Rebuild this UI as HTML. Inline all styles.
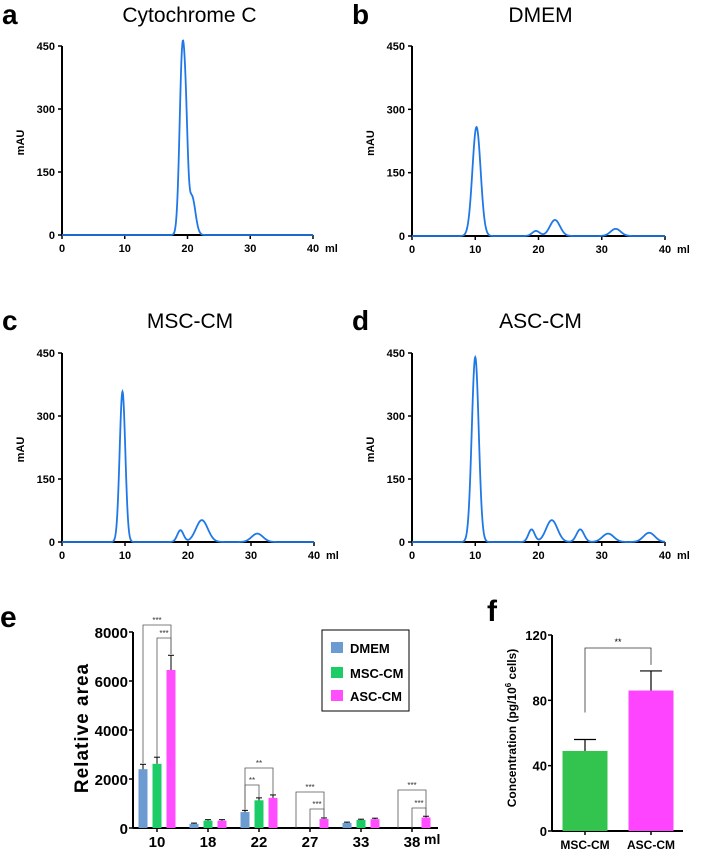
<!DOCTYPE html>
<html><head><meta charset="utf-8"><style>
html,body{margin:0;padding:0;background:#fff;}
svg text{font-family:"Liberation Sans",Arial,sans-serif;}
</style></head><body>
<svg id="fig" width="709" height="854" xmlns="http://www.w3.org/2000/svg"></svg>
<script>
// Chromatogram peaks: [center ml, height mAU, width ml]
const peaksA = [[19.2,440,0.45],[20.7,92,0.55],[19.8,120,0.3]];
const peaksB = [[10.2,258,0.65],[19.6,12,0.6],[22.6,38,0.8],[32.2,17,0.8]];
const peaksC = [[9.6,358,0.45],[18.8,28,0.5],[22.2,52,0.95],[31.0,20,0.9]];
const peaksD = [[10.0,440,0.55],[18.9,30,0.5],[22.1,52,0.9],[26.6,30,0.6],[31.0,20,0.9],[37.5,22,0.9]];
const chromTicksX = [0,10,20,30,40];
const chromTicksY = [0,150,300,450];
// Panel e
const eCategories = ["10","18","22","27","33","38"];
const eDMEM = [2400,170,650,0,210,0];
const eMSC = [2620,300,1130,0,330,0];
const eASC = [6450,300,1230,370,360,430];
const eDMEMerr = [200,30,70,0,30,0];
const eMSCerr = [270,40,100,0,30,0];
const eASCerr = [600,40,120,40,40,50];
const eTicksY = [0,2000,4000,6000,8000];
// Panel f
const fCategories = ["MSC-CM","ASC-CM"];
const fValues = [49,86];
const fErr = [7,12];
const fTicksY = [0,40,80,120];

const NS="http://www.w3.org/2000/svg";
const svg=document.getElementById('fig');
function el(tag,attrs,parent){const e=document.createElementNS(NS,tag);for(const k in attrs)e.setAttribute(k,attrs[k]);(parent||svg).appendChild(e);return e;}
function txt(s,attrs,parent){const e=el('text',attrs,parent);e.textContent=s;return e;}

function chrom(name,letter,title,peaks,x0,x1,y0,y1,lx,ly){
  const g=el('g',{});
  
  
  const sx=v=>x0+(x1-x0)*v/40, sy=v=>y0-(y0-y1)*v/450;
  const L=txt(letter,{x:lx,y:ly,'font-size':28,'font-weight':'bold'},g);
  
  const T=txt(title,{x:(x0+x1)/2+2,y:ly-2,'font-size':21,'text-anchor':'middle'},g);
  
  el('line',{x1:x0,y1:y1,x2:x0,y2:y0,stroke:'#000','stroke-width':2},g);
  el('line',{x1:x0,y1:y0,x2:x1,y2:y0,stroke:'#000','stroke-width':2},g);
  chromTicksY.forEach(t=>{el('line',{x1:x0-4,y1:sy(t),x2:x0,y2:sy(t),stroke:'#000','stroke-width':1.5},g);
    txt(String(t),{x:x0-7,y:sy(t)+4,'font-size':11,'font-weight':'bold','text-anchor':'end'},g);});
  chromTicksX.forEach(t=>{el('line',{x1:sx(t),y1:y0,x2:sx(t),y2:y0+4,stroke:'#000','stroke-width':1.5},g);
    txt(String(t),{x:sx(t),y:y0+17,'font-size':11,'font-weight':'bold','text-anchor':'middle'},g);});
  txt('ml',{x:x1+12,y:y0+17,'font-size':11,'font-weight':'bold'},g);
  const yl=txt('mAU',{x:0,y:0,'font-size':11,'font-weight':'bold','text-anchor':'middle',transform:`translate(${x0-38},${(y0+y1)/2+2}) rotate(-90)`},g);
  
  let d='';
  for(let i=0;i<=800;i++){const v=i*40/800;let h=0;peaks.forEach(p=>{h+=p[1]*Math.exp(-0.5*((v-p[0])/p[2])**2);});
    d+=(i?'L':'M')+sx(v).toFixed(2)+','+sy(h).toFixed(2);}
  const p=el('path',{d:d,fill:'none',stroke:'#1f78e6','stroke-width':1.8},g);
  
}
chrom('panel-a-cytochrome-c','a','Cytochrome C',peaksA,62,313,235,46,2,24);
chrom('panel-b-dmem','b','DMEM',peaksB,412,665,236,46,352,24);
chrom('panel-c-msc-cm','c','MSC-CM',peaksC,62,314,542,353,2,330);
chrom('panel-d-asc-cm','d','ASC-CM',peaksD,412,665,542,353,352,330);

// Panel e
(function(){
  const g=el('g',{});
  
  
  const x0=133,x1=438,y0=828,y1=632;
  const sy=v=>y0-(y0-y1)*v/8000;
  const cx=i=>157+i*51;
  const L=txt('e',{x:0,y:627,'font-size':30,'font-weight':'bold'},g);
  
  el('line',{x1:x0,y1:y1,x2:x0,y2:y0,stroke:'#000','stroke-width':2},g);
  el('line',{x1:x0,y1:y0,x2:x1,y2:y0,stroke:'#000','stroke-width':2},g);
  eTicksY.forEach(t=>{el('line',{x1:x0-4,y1:sy(t),x2:x0,y2:sy(t),stroke:'#000','stroke-width':1.5},g);
    txt(String(t),{x:x0-5,y:sy(t)+6,'font-size':15,'font-weight':'bold','text-anchor':'end'},g);});
  eCategories.forEach((c,i)=>{el('line',{x1:cx(i),y1:y0,x2:cx(i),y2:y0+4,stroke:'#000','stroke-width':1.5},g);
    txt(c,{x:cx(i),y:y0+19,'font-size':15,'font-weight':'bold','text-anchor':'middle'},g);});
  txt('ml',{x:424,y:y0+16,'font-size':14,'font-weight':'bold'},g);
  const yl=txt('Relative area',{x:0,y:0,'font-size':19,'font-weight':'bold','text-anchor':'middle','letter-spacing':1,transform:`translate(${88},${728}) rotate(-90)`},g);
  
  const series=[[eDMEM,eDMEMerr,'#6b9bd1',-14],[eMSC,eMSCerr,'#1ccc66',0],[eASC,eASCerr,'#ff4dff',14]];
  series.forEach(([vals,errs,col,off])=>{vals.forEach((v,i)=>{
    if(v<=0)return;const x=cx(i)+off;
    const r=el('rect',{x:x-4.5,y:sy(v),width:9,height:y0-sy(v),fill:col},g);
    
    if(errs[i]>0){el('line',{x1:x,y1:sy(v),x2:x,y2:sy(v+errs[i]),stroke:'#000','stroke-width':1},g);
      el('line',{x1:x-3,y1:sy(v+errs[i]),x2:x+3,y2:sy(v+errs[i]),stroke:'#000','stroke-width':1},g);}
  });});
  // significance brackets
  function br(i,a,b,ya,yb,ytop,lab){
    const xa=cx(i)+a,xb=cx(i)+b;
    el('polyline',{points:`${xa},${ya} ${xa},${ytop} ${xb},${ytop} ${xb},${yb}`,fill:'none',stroke:'#555','stroke-width':0.8},g);
    txt(lab,{x:(xa+xb)/2,y:ytop-2,'font-size':8,'text-anchor':'middle','fill':'#333'},g);
  }
  br(0,-14,14,sy(2650),sy(7100),625,'***');
  br(0,0,14,sy(2900),sy(7100),638,'***');
  br(2,-14,0,sy(750),sy(1250),785,'**');
  br(2,-14,14,sy(750),sy(1350),768,'**');
  br(3,-14,14,y0,sy(400),792,'***');
  br(3,0,14,y0,sy(400),809,'***');
  br(5,-14,14,y0,sy(500),790,'***');
  br(5,0,14,y0,sy(500),808,'***');
  // legend
  const lg=el('g',{},g);
  
  el('rect',{x:322,y:630,width:87,height:81,fill:'#fff',stroke:'#000','stroke-width':1},lg);
  [['DMEM','#6b9bd1',648],['MSC-CM','#1ccc66',673],['ASC-CM','#ff4dff',696]].forEach(([n,c,y])=>{
    const e=el('g',{},lg);
    el('rect',{x:331,y:y-6,width:12,height:11,fill:c},e);
    txt(n,{x:350,y:y+5,'font-size':13,'font-weight':'bold'},e);
  });
})();

// Panel f
(function(){
  const g=el('g',{});
  
  
  const x0=552,x1=683,y0=831,y1=635;
  const sy=v=>y0-(y0-y1)*v/120;
  const cx=i=>585+i*66;
  const L=txt('f',{x:487,y:621,'font-size':30,'font-weight':'bold'},g);
  
  el('line',{x1:x0,y1:y1,x2:x0,y2:y0,stroke:'#000','stroke-width':2},g);
  el('line',{x1:x0,y1:y0,x2:x1,y2:y0,stroke:'#000','stroke-width':2},g);
  fTicksY.forEach(t=>{el('line',{x1:x0-4,y1:sy(t),x2:x0,y2:sy(t),stroke:'#000','stroke-width':1.5},g);
    txt(String(t),{x:x0-5,y:sy(t)+5,'font-size':13,'font-weight':'bold','text-anchor':'end'},g);});
  const cols=['#33c44f','#ff44ff'];
  fCategories.forEach((c,i)=>{
    const x=cx(i),v=fValues[i],e=fErr[i];
    el('line',{x1:x,y1:y0,x2:x,y2:y0+4,stroke:'#000','stroke-width':1.5},g);
    txt(c,{x:x,y:y0+18,'font-size':12,'font-weight':'bold','text-anchor':'middle'},g);
    el('line',{x1:x,y1:sy(v),x2:x,y2:sy(v+e),stroke:'#000','stroke-width':1.2},g);
    el('line',{x1:x-11,y1:sy(v+e),x2:x+11,y2:sy(v+e),stroke:'#000','stroke-width':1.2},g);
    const r=el('rect',{x:x-22.5,y:sy(v),width:45,height:y0-sy(v),fill:cols[i]},g);
    
  });
  el('polyline',{points:`${cx(0)},${sy(fValues[0]+fErr[0])-27} ${cx(0)},648 ${cx(1)},648 ${cx(1)},${sy(fValues[1]+fErr[1])-6}`,fill:'none',stroke:'#333','stroke-width':0.8},g);
  txt('**',{x:(cx(0)+cx(1))/2,y:645,'font-size':9,'text-anchor':'middle'},g);
  const yl=el('text',{x:0,y:0,'font-size':12,'font-weight':'bold','text-anchor':'middle',transform:`translate(516,728) rotate(-90)`},g);
  
  yl.appendChild(document.createTextNode('Concentration (pg/10'));
  const sup=el('tspan',{dy:-5,'font-size':8},yl);sup.textContent='6';
  const rest=el('tspan',{dy:5},yl);rest.textContent=' cells)';
})();
</script>
</body></html>
